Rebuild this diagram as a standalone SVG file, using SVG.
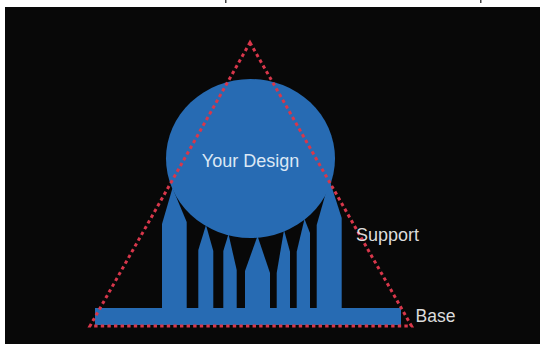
<svg xmlns="http://www.w3.org/2000/svg" width="540" height="347" viewBox="0 0 540 347">
  <style>
    .blue { fill: #276bb3; }
    .label { font-family: "Liberation Sans", Arial, sans-serif; fill: #dcdcdc; }
    .guide { fill: none; stroke: #d8374b; stroke-width: 3; stroke-dasharray: 3.4 3.2; }
  </style>
  <rect x="0" y="0" width="540" height="347" fill="#ffffff"/>
  <rect x="5" y="7" width="535" height="337" fill="#080808"/>
  <rect x="225" y="0" width="1.5" height="3" fill="#444"/>
  <rect x="480" y="0" width="1.5" height="3" fill="#444"/>

  <g id="supports" class="blue">
    <polygon points="162,309 162,224 172.5,188 186.7,222 186.7,309"/>
    <polygon points="198.3,309 198.3,250 206,225 213.3,251 213.3,309"/>
    <polygon points="223.3,309 223.3,251 228.5,234 236.7,270 236.7,309"/>
    <polygon points="245,309 245,271 257.5,236 270,273 270,309"/>
    <polygon points="276.7,309 276.7,273 284,230 290,251.7 290,309"/>
    <polygon points="296.7,309 296.7,251.7 304.5,219 310,233 310,309"/>
    <polygon points="316.7,309 316.7,225 329.5,180 341.7,218 341.7,309"/>
  </g>

  <g id="base">
    <rect class="blue" x="95" y="308" width="306" height="17"/>
  </g>

  <g id="design">
    <ellipse class="blue" cx="250.5" cy="158.5" rx="84.5" ry="79.5"/>
    <text x="250.5" y="166.5" text-anchor="middle" font-family="Liberation Sans, Arial, sans-serif" font-size="18" fill="#dce8f5">Your Design</text>
  </g>

  <g id="connectors">
    <polygon class="guide" points="250,42.5 411.5,326 90,326"/>
  </g>

  <g id="labels">
    <text class="label" x="356" y="241" font-size="18">Support</text>
    <text class="label" x="415.5" y="322.3" font-size="17.5">Base</text>
  </g>
</svg>
